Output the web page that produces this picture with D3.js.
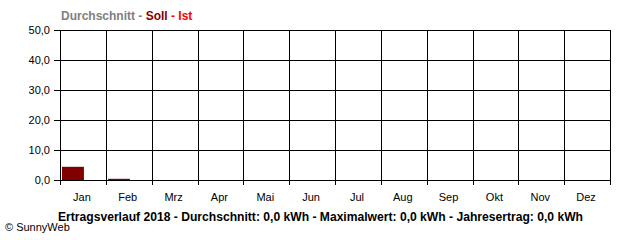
<!DOCTYPE html>
<html>
<head>
<meta charset="utf-8">
<script src="https://cdn.jsdelivr.net/npm/d3@7/dist/d3.min.js"></script>
<style>
body { margin: 0; background: #fff; }
svg { display: block; }
text { font-family: "Liberation Sans", Arial, sans-serif; }
</style>
</head>
<body>
<svg id="chart"></svg>
<script>
// data
var months = ["Jan", "Feb", "Mrz", "Apr", "Mai", "Jun", "Jul", "Aug", "Sep", "Okt", "Nov", "Dez"]
var soll = [4.4, 0.4, 0, 0, 0, 0, 0, 0, 0, 0, 0, 0]
var ist = [0, 0, 0, 0, 0, 0, 0, 0, 0, 0, 0, 0]
var yTicks = [0, 10, 20, 30, 40, 50]
var footer = "Ertragsverlauf 2018 - Durchschnitt: 0,0 kWh - Maximalwert: 0,0 kWh - Jahresertrag: 0,0 kWh"

var screen = {width: 640, height: 240}
var margins = {top: 30, right: 30, bottom: 60, left: 60}
var width = screen.width - margins.left - margins.right
var height = screen.height - margins.top - margins.bottom

var svg = d3.select("#chart")
    .attr("width", screen.width)
    .attr("height", screen.height)

var xScale = d3.scaleBand()
    .domain(months)
    .range([0, width])

var yScale = d3.scaleLinear()
    .domain([0, 50])
    .range([height, 0])

var fmt = function(v) { return d3.format(".1f")(v).replace(".", ",") }

var g = svg.append("g")
    .attr("transform", "translate(" + margins.left + "," + margins.top + ")")

// horizontal grid + left ticks
g.selectAll(".hgrid")
    .data(yTicks)
    .enter()
    .append("line")
    .attr("x1", -6)
    .attr("x2", width)
    .attr("y1", function(d) { return Math.round(yScale(d)) + 0.5 })
    .attr("y2", function(d) { return Math.round(yScale(d)) + 0.5 })
    .attr("stroke", "#000")

// vertical grid + bottom ticks (month boundaries)
var bounds = months.map(function(m) { return xScale(m) }).concat([width])
g.selectAll(".vgrid")
    .data(bounds)
    .enter()
    .append("line")
    .attr("x1", function(d) { return Math.round(d) + 0.5 })
    .attr("x2", function(d) { return Math.round(d) + 0.5 })
    .attr("y1", 0)
    .attr("y2", height + 5)
    .attr("stroke", "#000")

// y labels
g.selectAll(".ylab")
    .data(yTicks)
    .enter()
    .append("text")
    .attr("x", -10)
    .attr("y", function(d) { return yScale(d) + 4 })
    .attr("text-anchor", "end")
    .attr("font-size", "11px")
    .text(fmt)

// Soll bars (left half of month)
var half = xScale.bandwidth() / 2
g.selectAll(".soll")
    .data(soll)
    .enter()
    .append("rect")
    .attr("x", function(d, i) { return Math.round(xScale(months[i])) + 2 })
    .attr("width", half - 1)
    .attr("y", function(d) { return yScale(d) })
    .attr("height", function(d) { return height - yScale(d) })
    .attr("fill", "#800000")

// Ist bars (right half of month)
g.selectAll(".ist")
    .data(ist)
    .enter()
    .append("rect")
    .attr("x", function(d, i) { return xScale(months[i]) + half })
    .attr("width", half - 1)
    .attr("y", function(d) { return yScale(d) })
    .attr("height", function(d) { return height - yScale(d) })
    .attr("fill", "#ff0000")

// month labels
g.selectAll(".mlab")
    .data(months)
    .enter()
    .append("text")
    .attr("x", function(d) { return xScale(d) + xScale.bandwidth() / 2 - 1 })
    .attr("y", height + 21)
    .attr("text-anchor", "middle")
    .attr("font-size", "11px")
    .text(function(d) { return d })

// legend title
var title = svg.append("text")
    .attr("x", 61)
    .attr("y", 20)
    .attr("font-size", "12px")
    .attr("font-weight", "bold")
title.append("tspan").attr("fill", "#808080").text("Durchschnitt - ")
title.append("tspan").attr("fill", "#800000").text("Soll")
title.append("tspan").attr("fill", "#ff0000").text(" - Ist")

// footer
svg.append("text")
    .attr("x", 58)
    .attr("y", 221)
    .attr("font-size", "12px")
    .attr("font-weight", "bold")
    .attr("textLength", 525)
    .attr("lengthAdjust", "spacingAndGlyphs")
    .text(footer)

svg.append("text")
    .attr("x", 5)
    .attr("y", 231)
    .attr("font-size", "11px")
    .text("\u00a9 SunnyWeb")
</script>
</body>
</html>
